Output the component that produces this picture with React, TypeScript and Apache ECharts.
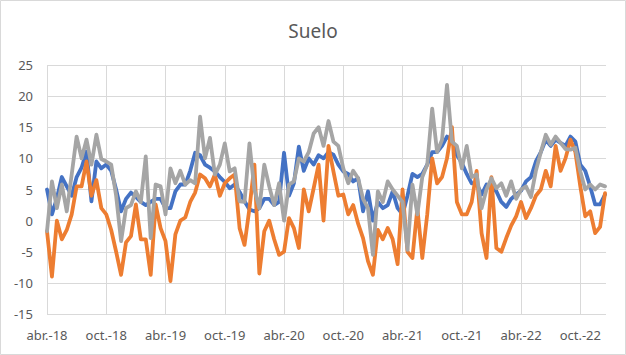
import React, { useEffect, useRef } from "react";
import * as echarts from "echarts";

// Half-month samples starting at April 2018 (x = months since abr.-18)
const blueValues = [
  5, 1, 3.6, 7, 5.5, 4, 7, 8.5, 11.1, 3.1, 9.5, 8.4, 9, 8, 5, 1.5, 3.5, 4.5, 3.8, 3,
  2.5, 3, 3.5, 3.5, 2, 2, 4.7, 5.8, 5.8, 8, 10.9, 10.5, 9, 8.5, 7.9, 7, 6.2, 5.2, 5.8, 4.6,
  3.1, 1.8, 1.5, 2, 3.5, 3.5, 2.5, 3, 10.9, 4, 6, 11.9, 8, 10, 9, 10.5, 10, 11, 10.6, 9,
  7.9, 7.5, 6.3, 6.8, 1.5, 4.7, 0, 3, 2, 2.5, 4.7, 2, 1, 4, 7.5, 7, 7.5, 9, 11, 11,
  12, 13.5, 13, 10.5, 9.3, 7.5, 6, 6, 4.2, 5.8, 5.2, 4.7, 3, 2.2, 3.5, 4.2, 4.8, 6.3, 7, 9.5,
  11, 13, 12, 13, 12.5, 12, 13.5, 12.7, 9, 8, 5.5, 2.6, 2.6, 4.2,
];

const orangeValues = [
  -1.7, -9, 0, -3, -1.5, 1, 5.5, 5.5, 9.5, 4, 6.5, 2, 1, -1.5, -5, -8.7, -3.5, -2.5, 2.6, -3,
  -3, -8.7, 2.6, -1.2, -3.3, -9.7, -2.2, 0, 0.5, 3, 4.5, 7.4, 6.8, 5.5, 7.4, 4, 6, 6.8, 7.4, -1.2,
  -3.9, 2, 9, -8.5, -1.7, 0, -3, -5.5, -5, 0.4, -1.2, -4.4, 5, 1.5, 5.2, 9, 0, 12, 7.9, 4,
  4.2, 1, 2.5, -0.5, -2.8, -6.5, -8.7, -1.5, -3, -1.2, -3, -7, 5, -5, -6, 2, -6, 1, 10, 6,
  7, 10, 15, 3, 1, 1, 3, 8, -2, -6, 7, -4.4, -5, -2.8, -0.8, 0.7, 3, 0.4, 2, 4,
  5, 8, 5.5, 12, 8, 10, 13, 11, 5.5, 0.7, 1.5, -2, -1, 4.4,
];

const grayValues = [
  -1.7, 6.3, 2, 5.8, 1.5, 7.4, 13.5, 10, 13, 9, 13.8, 9.9, 9.5, 9, 4, -3.3, 2, 2.5, 4.7, 3,
  10.3, -2.8, 5.8, 5.5, 1, 8.4, 6, 8, 5.8, 6.5, 6, 16.7, 10, 13.3, 7.4, 9, 12.4, 7.9, 8.4, 3.1,
  3, 12.4, 5, 2, 9, 5.5, 2.5, 6, 0, 5.8, 6.3, 10, 9.5, 11, 14, 15, 12, 16, 12.7, 12,
  8.4, 6, 8, 6.8, 3.5, 2, -5.5, 4.7, 3, 6.3, 5, 4, 3, -4.7, 5.8, 1, 7, 9, 18, 11,
  13, 21.8, 12.7, 12, 8.4, 12, 7, 7.4, 2, 5, 6.8, 5.2, 6, 4, 6.3, 3.5, 5, 5.5, 3.8, 8,
  11, 13.8, 12.2, 13.5, 12.5, 11.5, 11.4, 11.7, 7.9, 5, 5.8, 5, 5.8, 5.5,
];

const xTickLabels = [
  "abr.-18", "oct.-18", "abr.-19", "oct.-19", "abr.-20",
  "oct.-20", "abr.-21", "oct.-21", "abr.-22", "oct.-22",
];

const titleText = "Suelo";

const sampleMonths = blueValues.map((_, i) => i / 2);
const toPairs = (vals: number[]) => vals.map((v, i) => [sampleMonths[i], v]);

export default function App() {
  const ref = useRef<HTMLDivElement>(null);

  useEffect(() => {
    if (!ref.current) return;
    const chart = echarts.init(ref.current, undefined, { renderer: "svg" });
    const textColor = "#595959";
    const gridColor = "#d9d9d9";
    const lineW = 3.8;
    chart.setOption({
      animation: false,
      backgroundColor: "#ffffff",
      title: {
        text: titleText,
        left: "center",
        top: 16,
        textStyle: {
          color: textColor,
          fontSize: 19,
          fontWeight: "normal",
          fontFamily: "Noto Sans",
        },
      },
      graphic: [
        {
          type: "rect",
          shape: { x: 0.5, y: 0.5, width: 625, height: 354 },
          style: { fill: "none", stroke: gridColor, lineWidth: 1 },
          silent: true,
        },
      ],
      grid: { left: 47, right: 20, top: 65, bottom: 41, containLabel: false },
      xAxis: {
        type: "value",
        min: 0,
        max: 56.6,
        interval: 6,
        axisLine: { show: true, lineStyle: { color: gridColor, width: 1 } },
        axisTick: { show: false },
        axisLabel: {
          color: textColor,
          fontSize: 13,
          fontFamily: "Noto Sans",
          margin: 14,
          showMaxLabel: false,
          formatter: (v: number) => {
            const i = Math.round(v / 6);
            return Math.abs(v - i * 6) < 1e-6 ? xTickLabels[i] ?? "" : "";
          },
        },
        splitLine: {
          show: true,
          showMaxLine: false,
          lineStyle: { color: gridColor, width: 1 },
        },
      },
      yAxis: {
        type: "value",
        min: -15,
        max: 25,
        interval: 5,
        axisLine: { show: false },
        axisTick: { show: false },
        axisLabel: {
          color: textColor,
          fontSize: 13,
          fontFamily: "Noto Sans",
          margin: 14,
        },
        splitLine: { show: true, lineStyle: { color: gridColor, width: 1 } },
      },
      series: [
        {
          type: "line",
          data: toPairs(blueValues),
          showSymbol: false,
          lineStyle: { color: "#4472C4", width: lineW, join: "round", cap: "round" },
          itemStyle: { color: "#4472C4" },
        },
        {
          type: "line",
          data: toPairs(orangeValues),
          showSymbol: false,
          lineStyle: { color: "#ED7D31", width: lineW, join: "round", cap: "round" },
          itemStyle: { color: "#ED7D31" },
        },
        {
          type: "line",
          data: toPairs(grayValues),
          showSymbol: false,
          lineStyle: { color: "#A5A5A5", width: lineW, join: "round", cap: "round" },
          itemStyle: { color: "#A5A5A5" },
        },
      ],
    });
    return () => chart.dispose();
  }, []);

  return (
    <div
      ref={ref}
      style={{ position: "fixed", left: 0, top: 0, width: 626, height: 355 }}
    />
  );
}
